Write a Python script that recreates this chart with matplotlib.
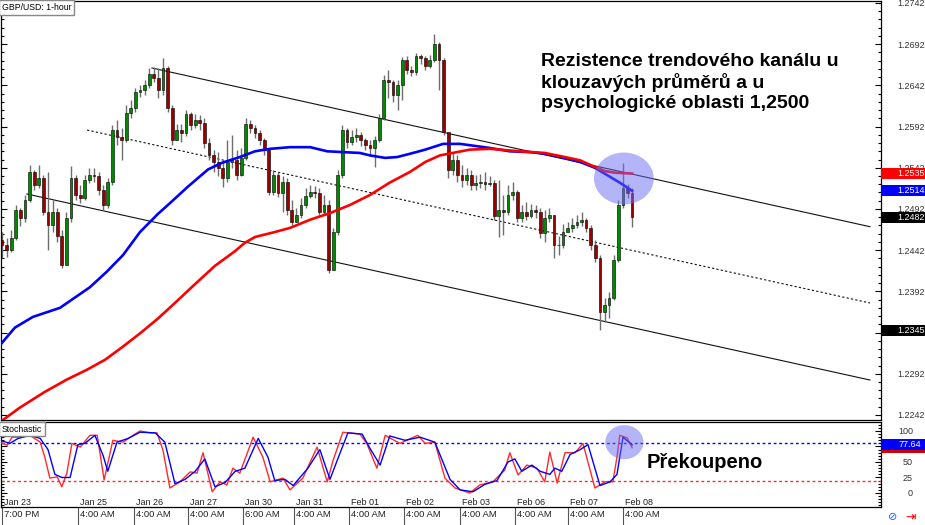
import numpy as np
import matplotlib
matplotlib.use('Agg')
import matplotlib.pyplot as plt
from matplotlib.patches import Ellipse, Rectangle
from matplotlib import transforms
from matplotlib.ticker import FixedLocator, MultipleLocator

plt.rcParams['font.family'] = ['Liberation Sans', 'DejaVu Sans']

# ---- Data (one bar ~ 2 hours) ----
first_open = 1.2454
closes = [1.2448, 1.2442, 1.2457, 1.2491, 1.2481, 1.2503, 1.2537, 1.2521, 1.2530, 1.2488,
          1.2473, 1.2488, 1.2459, 1.2424, 1.2481, 1.2530, 1.2509, 1.2505, 1.2527, 1.2533,
          1.2532, 1.2515, 1.2497, 1.2525, 1.2588, 1.2579, 1.2576, 1.2608, 1.2615, 1.2634,
          1.2636, 1.2642, 1.2656, 1.2651, 1.2636, 1.2663, 1.2615, 1.2576, 1.2588, 1.2584,
          1.2607, 1.2594, 1.2600, 1.2596, 1.2572, 1.2558, 1.2549, 1.2542, 1.2530, 1.2549,
          1.2551, 1.2533, 1.2554, 1.2595, 1.2590, 1.2584, 1.2576, 1.2564, 1.2513, 1.2533,
          1.2511, 1.2525, 1.2491, 1.2476, 1.2485, 1.2497, 1.2508, 1.2513, 1.2511, 1.2488,
          1.2497, 1.2418, 1.2464, 1.2533, 1.2588, 1.2573, 1.2579, 1.2582, 1.2576, 1.2570,
          1.2566, 1.2576, 1.2602, 1.2649, 1.2646, 1.2630, 1.2642, 1.2673, 1.2661, 1.2658,
          1.2678, 1.2675, 1.2666, 1.2673, 1.2692, 1.2673, 1.2585, 1.2539, 1.2551, 1.2533,
          1.2527, 1.2533, 1.2521, 1.2524, 1.2525, 1.2522, 1.2524, 1.2483, 1.2491, 1.2488,
          1.2509, 1.2513, 1.2481, 1.2488, 1.2483, 1.2491, 1.2488, 1.2463, 1.2481, 1.2485,
          1.2448, 1.2448, 1.2464, 1.2469, 1.2473, 1.2476, 1.2479, 1.2469, 1.2448, 1.2433,
          1.2367, 1.2376, 1.2384, 1.2430, 1.2497, 1.2517, 1.2511, 1.2482]
highs = [1.2464, 1.2457, 1.2467, 1.2497, 1.2493, 1.2509, 1.2545, 1.2539, 1.2545, 1.2533,
         1.2537, 1.2503, 1.2493, 1.2467, 1.2488, 1.2544, 1.2533, 1.2521, 1.2533, 1.2542,
         1.2542, 1.2537, 1.2521, 1.2530, 1.2594, 1.2600, 1.2590, 1.2618, 1.2624, 1.2639,
         1.2642, 1.2649, 1.2663, 1.2664, 1.2663, 1.2675, 1.2666, 1.2618, 1.2595, 1.2595,
         1.2612, 1.2610, 1.2607, 1.2606, 1.2602, 1.2578, 1.2564, 1.2561, 1.2551, 1.2576,
         1.2582, 1.2564, 1.2566, 1.2602, 1.2600, 1.2594, 1.2588, 1.2578, 1.2566, 1.2539,
         1.2537, 1.2532, 1.2530, 1.2503, 1.2493, 1.2505, 1.2517, 1.2521, 1.2520, 1.2517,
         1.2509, 1.2503, 1.2469, 1.2539, 1.2594, 1.2590, 1.2588, 1.2590, 1.2585, 1.2578,
         1.2576, 1.2581, 1.2607, 1.2655, 1.2661, 1.2649, 1.2649, 1.2676, 1.2678, 1.2666,
         1.2681, 1.2680, 1.2678, 1.2679, 1.2704, 1.2695, 1.2675, 1.2582, 1.2561, 1.2558,
         1.2545, 1.2542, 1.2539, 1.2533, 1.2534, 1.2537, 1.2532, 1.2527, 1.2527, 1.2509,
         1.2521, 1.2525, 1.2515, 1.2497, 1.2500, 1.2498, 1.2497, 1.2493, 1.2491, 1.2493,
         1.2485, 1.2459, 1.2474, 1.2476, 1.2481, 1.2485, 1.2488, 1.2481, 1.2473, 1.2454,
         1.2436, 1.2384, 1.2391, 1.2436, 1.2503, 1.2548, 1.2522, 1.2517]
lows = [1.2433, 1.2434, 1.2440, 1.2454, 1.2471, 1.2476, 1.2500, 1.2515, 1.2517, 1.2485,
        1.2442, 1.2464, 1.2452, 1.2420, 1.2428, 1.2476, 1.2503, 1.2499, 1.2503, 1.2524,
        1.2525, 1.2509, 1.2491, 1.2493, 1.2521, 1.2570, 1.2551, 1.2573, 1.2602, 1.2610,
        1.2628, 1.2630, 1.2639, 1.2646, 1.2627, 1.2630, 1.2610, 1.2570, 1.2576, 1.2573,
        1.2581, 1.2588, 1.2590, 1.2588, 1.2566, 1.2551, 1.2537, 1.2532, 1.2519, 1.2525,
        1.2542, 1.2527, 1.2532, 1.2551, 1.2584, 1.2578, 1.2570, 1.2558, 1.2509, 1.2509,
        1.2507, 1.2488, 1.2485, 1.2473, 1.2476, 1.2481, 1.2493, 1.2505, 1.2505, 1.2485,
        1.2485, 1.2414, 1.2420, 1.2460, 1.2530, 1.2566, 1.2570, 1.2573, 1.2568, 1.2564,
        1.2558, 1.2543, 1.2573, 1.2600, 1.2627, 1.2622, 1.2612, 1.2624, 1.2656, 1.2653,
        1.2655, 1.2668, 1.2661, 1.2663, 1.2670, 1.2636, 1.2582, 1.2530, 1.2533, 1.2525,
        1.2519, 1.2521, 1.2515, 1.2515, 1.2517, 1.2515, 1.2520, 1.2479, 1.2458, 1.2460,
        1.2485, 1.2503, 1.2476, 1.2476, 1.2479, 1.2481, 1.2481, 1.2457, 1.2452, 1.2476,
        1.2433, 1.2436, 1.2445, 1.2464, 1.2464, 1.2469, 1.2471, 1.2464, 1.2442, 1.2428,
        1.2345, 1.2355, 1.2360, 1.2382, 1.2428, 1.2493, 1.2505, 1.2470]

# moving averages (blue = faster, red = slower), sampled along the chart
blue_x = [-0.4, 2.8, 6.7, 12.6, 19.1, 22.8, 26.3, 30.0, 33.9, 36.5, 40.4, 44.8, 47.8, 51.7,
          55.0, 58.3, 62.6, 67.0, 70.7, 74.1, 77.8, 80.0, 83.3, 85.9, 88.7, 92.0, 95.9, 99.6,
          106.1, 110.4, 114.8, 118.0, 122.4, 125.7, 128.9, 132.2, 134.3, 137.0]
blue_ma = [1.2327, 1.2348, 1.2361, 1.2372, 1.2397, 1.2416, 1.2436, 1.2464, 1.2486, 1.2499,
           1.2519, 1.2540, 1.2548, 1.2555, 1.2562, 1.2565, 1.2567, 1.2567, 1.2562, 1.2561,
           1.2560, 1.2557, 1.2554, 1.2555, 1.2559, 1.2564, 1.2571, 1.2571, 1.2566, 1.2562,
           1.2561, 1.2559, 1.2554, 1.2549, 1.2542, 1.2531, 1.2524, 1.2514]
red_x = [0.2, 3.9, 9.3, 14.1, 18.5, 22.4, 26.3, 30.0, 33.9, 37.6, 42.0, 46.3, 50.7, 52.8,
         55.0, 59.3, 62.6, 67.0, 71.3, 75.7, 80.0, 84.3, 88.7, 92.0, 95.2, 101.7, 106.1,
         112.6, 118.0, 122.4, 125.7, 128.9, 131.1, 133.3, 137.0]
red_ma = [1.2236, 1.2251, 1.2270, 1.2285, 1.2297, 1.2309, 1.2325, 1.2341, 1.2359, 1.2378,
          1.2401, 1.2423, 1.2441, 1.2451, 1.2458, 1.2464, 1.2469, 1.2479, 1.2487, 1.2497,
          1.2509, 1.2524, 1.2537, 1.2549, 1.2557, 1.2564, 1.2565, 1.2562, 1.2560, 1.2555,
          1.2551, 1.2543, 1.2538, 1.2536, 1.2535]

# descending channel: (start bar, start price, end bar, end price)
channel_upper = (32.6, 1.26631, 188.7, 1.24705)
channel_mid = (18.5, 1.25878, 188.7, 1.23779)
channel_lower = (5.4, 1.25102, 188.7, 1.22844)

# stochastic oscillator
stoch_red_x = [-0.4, 1.1, 2.2, 3.9, 5.4, 6.7, 8.3, 9.3, 10.4, 12.0, 13.0, 14.1, 15.2, 17.0,
               19.1, 20.7, 22.2, 24.1, 26.3, 28.5, 30.0, 32.2, 33.7, 35.0, 36.5, 38.7, 40.9,
               42.4, 43.7, 45.7, 47.4, 48.9, 50.2, 51.7, 54.6, 56.7, 58.3, 61.1, 62.6, 65.4,
               68.5, 70.7, 72.0, 74.1, 77.8, 79.3, 81.5, 83.3, 86.5, 90.4, 92.0, 94.1, 96.3,
               98.5, 101.7, 103.9, 106.7, 109.3, 110.4, 112.2, 114.1, 116.3, 118.0, 119.1,
               120.7, 122.4, 124.6, 126.3, 128.9, 131.1, 132.8, 133.7, 134.3, 135.9, 137.0]
stoch_red = [82, 77, 90, 90, 95, 90, 82, 58, 24, 26, 10, 32, 80, 74,
             93, 93, 21, 85, 82, 93, 100, 97, 97, 69, 8, 18, 34,
             32, 65, 2, 18, 13, 40, 32, 90, 58, 18, 24, 5, 24,
             74, 18, 53, 98, 95, 80, 40, 93, 80, 93, 80, 82, 24,
             8, 0, 13, 18, 37, 65, 29, 45, 40, 18, 66,
             16, 65, 65, 80, 8, 18, 18, 58, 93, 89, 73]
stoch_blue_x = [-0.4, 1.7, 3.5, 6.1, 8.3, 10.0, 11.5, 13.0, 14.8, 16.5, 18.0, 20.2, 22.0,
                23.0, 25.0, 27.4, 30.0, 33.3, 35.4, 37.6, 39.8, 42.0, 44.1, 46.3, 48.5,
                50.7, 52.8, 55.7, 57.8, 59.3, 61.5, 63.3, 66.5, 69.1, 71.3, 73.0, 75.2,
                78.3, 80.0, 82.2, 84.3, 87.6, 90.9, 94.1, 97.4, 99.6, 102.4, 105.0, 107.6,
                110.0, 111.5, 113.0, 115.2, 117.0, 119.1, 120.2, 121.7, 123.5, 125.7,
                127.4, 130.0, 132.2, 133.7, 135.0, 137.0]
stoch_blue = [85, 80, 88, 93, 88, 70, 30, 25, 25, 78, 80, 93, 60,
              35, 82, 88, 98, 97, 82, 15, 22, 35, 55, 10, 17,
              35, 40, 88, 58, 20, 22, 12, 40, 70, 22, 55, 97,
              95, 72, 45, 92, 85, 90, 82, 22, 5, 2, 14, 20,
              50, 55, 35, 45, 35, 30, 40, 35, 62, 70,
              78, 12, 18, 30, 90, 77.64]

# axis annotations
price_ticks = [1.2242, 1.2292, 1.2342, 1.2392, 1.2442, 1.2492, 1.2542, 1.2592, 1.2642,
               1.2692, 1.2742]
stoch_ticks = [0, 25, 50, 75, 100]
day_starts = [0, 16.5, 28.7, 40.4, 52.4, 63.5, 75.4, 87.4, 99.6, 111.5, 123.0, 135.0]
day_labels = ['Jan 23', 'Jan 25', 'Jan 26', 'Jan 27', 'Jan 30', 'Jan 31', 'Feb 01',
              'Feb 02', 'Feb 03', 'Feb 06', 'Feb 07', 'Feb 08']
time_labels = ['7:00 PM', '4:00 AM', '4:00 AM', '4:00 AM', '6:00 AM', '4:00 AM',
               '4:00 AM', '4:00 AM', '4:00 AM', '4:00 AM', '4:00 AM', '4:00 AM']

# ---- Figure ----
W, H = 925, 525
fig = plt.figure(figsize=(W / 100, H / 100), dpi=100)
ax = fig.add_axes([1 / W, 1 - 420 / H, 880 / W, 419 / H])
ax2 = fig.add_axes([1 / W, 1 - 507 / H, 880 / W, 85 / H], sharex=ax)

n = len(closes)
idx = np.arange(n)
c = np.array(closes)
o = np.concatenate([[first_open], c[:-1]])
hi = np.maximum.reduce([np.array(highs), o, c])
lo = np.minimum.reduce([np.array(lows), o, c])
up = c >= o

ax.vlines(idx, lo, hi, color='#6e6e6e', lw=1.0, zorder=2)
body = np.maximum(np.abs(c - o), 0.00006)
ax.bar(idx, body, bottom=np.minimum(o, c), width=0.58,
       color=np.where(up, '#008a00', '#990000'), edgecolor='black', lw=0.4, zorder=3)

for ln, ls in [(channel_upper, '-'), (channel_mid, (0, (2, 2))), (channel_lower, '-')]:
    ax.plot([ln[0], ln[2]], [ln[1], ln[3]], color='#111111', lw=0.8, ls=ls, zorder=1.5)

ax.plot(blue_x, blue_ma, color='#0000ff', lw=1.9, zorder=4)
ax.plot(red_x, red_ma, color='#ff0000', lw=1.9, zorder=4)

ax.add_patch(Ellipse((135.2, 1.2529), 13.0, 0.0063, fc=(0.42, 0.42, 0.95), alpha=0.5,
                     ec='none', zorder=5))

ax.set_xlim(-0.22, 191.1)
ax.set_ylim(1.22359, 1.27444)

# price scale (1.2342 sits under the low-price box, as in the original)
ax.yaxis.tick_right()
ax.set_yticks(price_ticks)
ax.set_yticklabels(['' if abs(t - 1.2342) < 1e-6 else f'{t:.4f}' for t in price_ticks])
ax.yaxis.set_minor_locator(FixedLocator([1.2232 + 0.001 * k for k in range(53)]))
ax.tick_params(axis='y', which='major', direction='in', length=4, width=0.8,
               left=True, right=True, labelsize=6.5, labelcolor='#333333', pad=11.5)
ax.tick_params(axis='y', which='minor', direction='in', length=2.5, width=0.8,
               left=True, right=True)
ax.tick_params(axis='x', which='both', bottom=False, labelbottom=False)
for s in ax.spines.values():
    s.set_linewidth(0.9)

blend = transforms.blended_transform_factory(ax.transAxes, ax.transData)
markers = [(red_ma[-1], '#ff0000'), (blue_ma[-1], '#0000ff'),
           (closes[-1], '#000000'), (min(lows), '#000000')]
bh = 11 * (1.27444 - 1.22359) / 419
for val, col in markers:
    ax.add_patch(Rectangle((1.0, val - bh / 2), 44 / 880, bh, transform=blend,
                           clip_on=False, fc=col, ec='none', zorder=10))
    ax.text(1.0 + 16 / 880, val, f'{val:.4f}', transform=blend, ha='left', va='center',
            fontsize=6.5, color='white', zorder=11, clip_on=False)

# ---- Stochastic panel ----
ax2.plot(stoch_red_x, stoch_red, color='#ff2a2a', lw=1.0, zorder=3)
ax2.plot(stoch_blue_x, stoch_blue, color='#0000ff', lw=1.0, zorder=3)
ax2.axhline(80, color='#0000ff', lw=1.0, ls=(0, (2, 2)), zorder=2)
ax2.axhline(20, color='#ff2a2a', lw=1.0, ls=(0, (2, 2)), zorder=2)
ax2.add_patch(Ellipse((135.3, 82), 8.3, 55, fc=(0.42, 0.42, 0.95), alpha=0.5,
                      ec='none', zorder=5))
ax2.set_ylim(-22.6, 114.5)
ax2.yaxis.tick_right()
ax2.set_yticks(stoch_ticks)
# 75 is covered by the value box in the original
ax2.set_yticklabels(['' if t == 75 else str(t) for t in stoch_ticks])
for lbl in ax2.get_yticklabels():
    lbl.set_ha('right')
ax2.yaxis.set_minor_locator(MultipleLocator(5))
ax2.tick_params(axis='y', which='major', direction='in', length=4, width=0.8,
                left=True, right=True, labelsize=6.5, labelcolor='#333333', pad=23)
ax2.tick_params(axis='y', which='minor', direction='in', length=2.5, width=0.8,
                left=True, right=True)
for s in ax2.spines.values():
    s.set_linewidth(0.9)

blend2 = transforms.blended_transform_factory(ax2.transAxes, ax2.transData)
sh = 11 * (114.5 + 22.6) / 85
for val, col in [(stoch_red[-1], '#cc0000'), (stoch_blue[-1], '#0000ff')]:
    ax2.add_patch(Rectangle((1.0, val - sh / 2), 44 / 880, sh, transform=blend2,
                            clip_on=False, fc=col, ec='none', zorder=10))
ax2.text(1.0 + 18 / 880, stoch_blue[-1], f'{stoch_blue[-1]:.2f}', transform=blend2,
         ha='left', va='center', fontsize=6.5, color='white', zorder=11, clip_on=False)

# time axis: separators + labels below, dates inside the panel
ax2.set_xticks(day_starts)
ax2.set_xticklabels(time_labels)
ax2.tick_params(axis='x', direction='out', length=13, width=0.8, color='#555555',
                labelsize=6.8, labelcolor='#222222', pad=-11)
for lbl in ax2.get_xticklabels():
    lbl.set_ha('left')
    lbl.set_transform(lbl.get_transform() + transforms.ScaledTranslation(2 / 100, 0, fig.dpi_scale_trans))
blendx = transforms.blended_transform_factory(ax2.transData, ax2.transAxes)
for x0, lab in zip(day_starts, day_labels):
    ax2.text(x0 + 0.5, 0.05, lab, transform=blendx, ha='left', va='center',
             fontsize=6.5, color='#222222')

# ---- Text ----
fig.text(2 / W, 1 - 7.5 / H, 'GBP/USD: 1-hour', fontsize=6.3, va='center', ha='left',
         bbox=dict(boxstyle='square,pad=0.3', fc='white', ec='#888888', lw=1))
fig.text(2 / W, 1 - 429 / H, 'Stochastic', fontsize=6.3, va='center', ha='left',
         bbox=dict(boxstyle='square,pad=0.3', fc='white', ec='#888888', lw=1))
fig.text(541 / W, 1 - 82.5 / H,
         'Rezistence trendového kanálu u\nklouzavých průměrů a u\npsychologické oblasti 1,2500',
         fontsize=14, fontweight='bold', va='center', ha='left', linespacing=1.25)
fig.text(647 / W, 1 - 462 / H, 'Překoupeno', fontsize=14.5, fontweight='bold',
         va='center', ha='left')
fig.text(905 / W, 1 - 517 / H, '⇥', fontsize=9, color='#ff0000', va='center',
         ha='left', family='DejaVu Sans')
fig.text(888 / W, 1 - 517 / H, '⊘', fontsize=8, color='#1e64ff', va='center',
         ha='left', family='DejaVu Sans')

fig.savefig('out.png', dpi=100)
